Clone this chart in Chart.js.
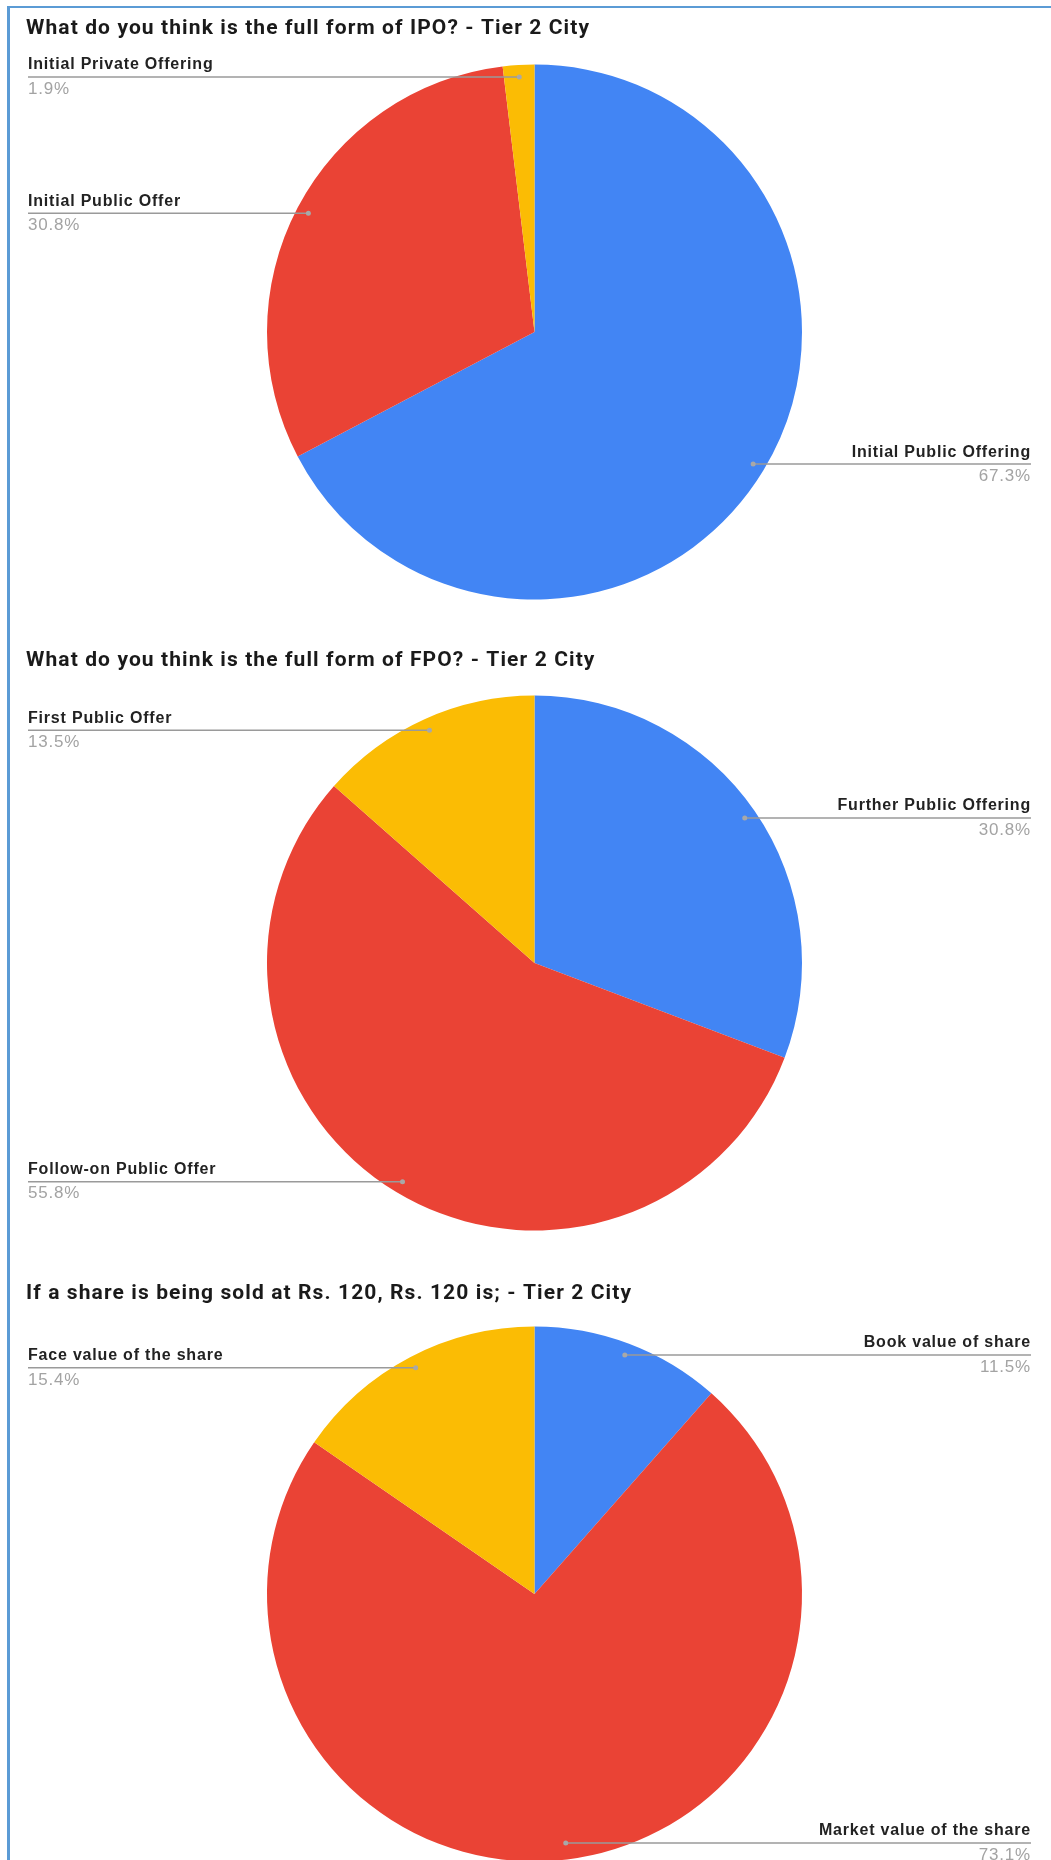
<!DOCTYPE html>
<html>
<head>
<meta charset="utf-8">
<script src="https://cdn.jsdelivr.net/npm/chart.js@4.4.1/dist/chart.umd.min.js"></script>
<style>
  body { margin: 0; background: #fff; }
  #page { position: relative; width: 1051px; height: 1860px; overflow: hidden; background: #fff; }
  .frame { position: absolute; left: 7px; top: 6px; right: 0; bottom: 0; border-top: 2px solid #5b9bd5; border-left: 3px solid #5b9bd5; }
  canvas { position: absolute; left: 0; }
</style>
</head>
<body>
<div id="page">
  <div class="frame"></div>
  <canvas id="c1" width="1051" height="632" style="top:0"></canvas>
  <canvas id="c2" width="1051" height="632" style="top:631px"></canvas>
  <canvas id="c3" width="1051" height="632" style="top:1262px"></canvas>
</div>
<script>
const ipoTitle = "What do you think is the full form of IPO? - Tier 2 City";
const ipoLabels = ["Initial Public Offering", "Initial Public Offer", "Initial Private Offering"];
const ipoValues = [67.3, 30.8, 1.9];

const fpoTitle = "What do you think is the full form of FPO? - Tier 2 City";
const fpoLabels = ["Further Public Offering", "Follow-on Public Offer", "First Public Offer"];
const fpoValues = [30.8, 55.8, 13.5];

const shareTitle = "If a share is being sold at Rs. 120, Rs. 120 is; - Tier 2 City";
const shareLabels = ["Book value of share", "Market value of the share", "Face value of the share"];
const shareValues = [11.5, 73.1, 15.4];

const sliceColors = ["#4285f4", "#ea4335", "#fbbc04"];

// title + leader-line labels, drawn the way the sheets export does it
const sliceLabels = {
  id: "sliceLabels",
  afterDraw(chart, args, opts) {
    const ctx = chart.ctx;
    ctx.save();
    ctx.textBaseline = "middle";
    ctx.textAlign = "left";
    ctx.font = "bold 21px Roboto";
    ctx.letterSpacing = "1.1px";
    ctx.fillStyle = "#1a1a1a";
    ctx.fillText(opts.title, 26, opts.titleY || 29);

    const meta = chart.getDatasetMeta(0);
    const data = chart.data.datasets[0].data;
    const labels = chart.data.labels;
    meta.data.forEach((arc, i) => {
      const mid = (arc.startAngle + arc.endAngle) / 2;
      const r = arc.outerRadius * 0.955;
      const px = arc.x + Math.cos(mid) * r;
      let py = arc.y + Math.sin(mid) * r;
      if (opts.maxY) py = Math.min(py, opts.maxY);
      const right = Math.cos(mid) >= 0;
      const edge = right ? 1031 : 28;

      ctx.strokeStyle = "#9a9a9a";
      ctx.lineWidth = 1.5;
      ctx.beginPath();
      ctx.moveTo(px, py);
      ctx.lineTo(edge, py);
      ctx.stroke();

      ctx.fillStyle = "#a8a8a8";
      ctx.beginPath();
      ctx.arc(px, py, 2.5, 0, Math.PI * 2);
      ctx.fill();

      ctx.textAlign = right ? "right" : "left";
      ctx.letterSpacing = "0.8px";
      ctx.font = "bold 16px 'Liberation Sans'";
      ctx.fillStyle = "#222";
      ctx.fillText(labels[i], edge, py - 12);
      ctx.font = "17px 'Liberation Sans'";
      ctx.fillStyle = "#a3a3a3";
      ctx.fillText(data[i].toFixed(1) + "%", edge, py + 12);
    });
    ctx.restore();
  }
};

function makePie(id, labels, values, title, titleY, maxY) {
  return new Chart(document.getElementById(id), {
    type: "pie",
    data: {
      labels: labels,
      datasets: [{ data: values, backgroundColor: sliceColors, borderWidth: 0 }]
    },
    options: {
      responsive: false,
      animation: false,
      layout: { padding: { top: 64, left: 267, right: 249, bottom: 32 } },
      plugins: {
        legend: { display: false },
        tooltip: { enabled: false },
        sliceLabels: { title: title, titleY: titleY, maxY: maxY }
      }
    },
    plugins: [sliceLabels]
  });
}

makePie("c1", ipoLabels, ipoValues, ipoTitle, 29);
makePie("c2", fpoLabels, fpoValues, fpoTitle, 30);
makePie("c3", shareLabels, shareValues, shareTitle, 32, 581);
</script>
</body>
</html>
